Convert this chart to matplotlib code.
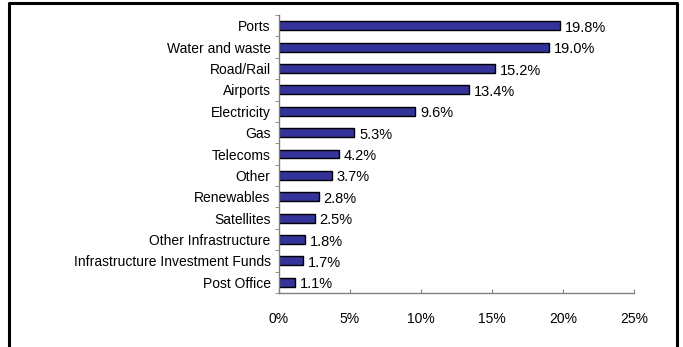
import matplotlib
matplotlib.use("Agg")
import matplotlib.pyplot as plt
from matplotlib.lines import Line2D
import numpy as np

plt.rcParams["font.family"] = ["Liberation Sans", "DejaVu Sans"]
plt.rcParams["font.size"] = 10

categories = ["Ports", "Water and waste", "Road/Rail", "Airports", "Electricity",
              "Gas", "Telecoms", "Other", "Renewables", "Satellites",
              "Other Infrastructure", "Infrastructure Investment Funds", "Post Office"]
shares = [19.8, 19.0, 15.2, 13.4, 9.6, 5.3, 4.2, 3.7, 2.8, 2.5, 1.8, 1.7, 1.1]
x_ticks = [0, 5, 10, 15, 20, 25]

fig = plt.figure(figsize=(6.83, 3.47), dpi=100)
ax = fig.add_axes([279 / 683, 1 - 293 / 347, 355 / 683, 278 / 347])

y = np.arange(len(categories))[::-1]
ax.barh(y, shares, height=0.42, color="#333399", edgecolor="black", linewidth=1.0)

for yi, v in zip(y, shares):
    ax.annotate(f"{v:.1f}%", (v, yi), xytext=(3.5, -1.5), textcoords="offset points",
                va="center", ha="left", fontsize=10.5)

ax.set_xlim(0, 25)
ax.set_ylim(-0.5, len(categories) - 0.5)
ax.set_xticks(x_ticks)
ax.set_xticklabels([f"{t}%" for t in x_ticks])
ax.set_yticks(y)
ax.set_yticklabels(categories)
ax.set_yticks(np.arange(len(categories) + 1) - 0.5, minor=True)
ax.tick_params(axis="y", which="major", length=0, pad=6)
ax.tick_params(axis="y", which="minor", length=3, color="#808080", direction="out")
ax.tick_params(axis="x", length=3, color="#808080", direction="in", pad=14)

for s in ["top", "right"]:
    ax.spines[s].set_visible(False)
for s in ["left", "bottom"]:
    ax.spines[s].set_color("#808080")
    ax.spines[s].set_linewidth(1.0)

# outer frame (open at bottom edge, as in the original)
fig.add_artist(Line2D([9 / 683, 9 / 683, 677 / 683, 677 / 683],
                      [0, 1 - 3 / 347, 1 - 3 / 347, 0],
                      transform=fig.transFigure, color="black", linewidth=2.2))

fig.savefig("out.png", dpi=100)
